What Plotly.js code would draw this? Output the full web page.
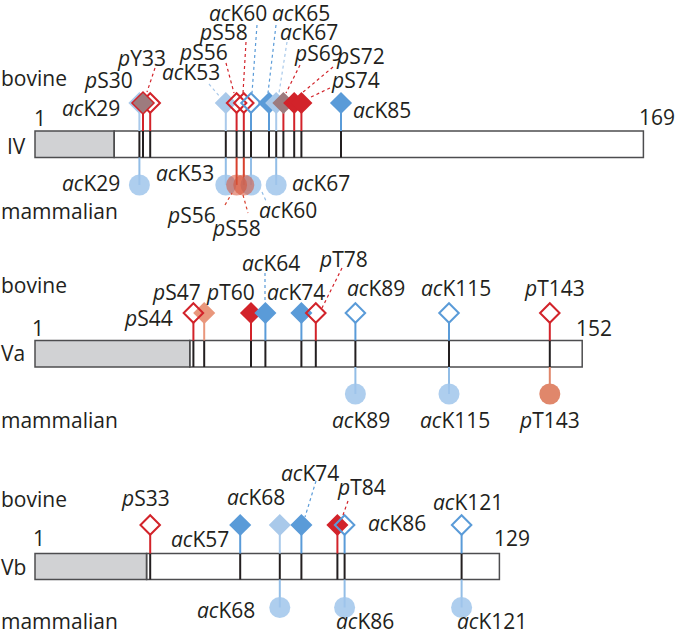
<!DOCTYPE html>
<html><head><meta charset="utf-8">
<script src="https://cdn.plot.ly/plotly-3.0.1.min.js"></script>
<style>html,body{margin:0;padding:0;background:#fff}#chart{width:677px;height:636px}</style>
</head><body><div id="chart"></div>
<script>
// ---------------- data ----------------
const proteins = ["IV", "Va", "Vb"];
const proteinLength = [169, 152, 129];
const presequenceEnd = [22, 43, 31];

const ivBovineSites = ["acK29","pS30","pY33","acK53","pS56","pS58","acK60","acK65","acK67","pS69","pS72","pS74","acK85"];
const ivBovinePos   = [29, 30, 32, 53, 56, 58, 60, 65, 67, 69, 72, 74, 85];
const ivBovineKind  = ["acL","pM","pO","acL","pO","pO","acO","ac","acL","pG","p","p","ac"];
const ivMammalSites = ["acK29","acK53","pS56","pS58","acK60","acK67"];
const ivMammalPos   = [29, 53, 56, 58, 60, 67];
const ivMammalKind  = ["ac","ac","p","p","ac","ac"];

const vaBovineSites = ["pS44","pS47","pT60","acK64","acK74","pT78","acK89","acK115","pT143"];
const vaBovinePos   = [44, 47, 60, 64, 74, 78, 89, 115, 143];
const vaBovineKind  = ["pO","pL","p","ac","ac","pO","acO","acO","pO"];
const vaMammalSites = ["acK89","acK115","pT143"];
const vaMammalPos   = [89, 115, 143];
const vaMammalKind  = ["ac","ac","pL"];

const vbBovineSites = ["pS33","acK57","acK68","acK74","pT84","acK86","acK121"];
const vbBovinePos   = [32, 57, 68, 74, 84, 86, 118.5];
const vbBovineKind  = ["pO","ac","acL","ac","p","acO","acO"];
const vbMammalSites = ["acK68","acK86","acK121"];
const vbMammalPos   = [68, 86, 118.5];
const vbMammalKind  = ["ac","ac","ac"];

// ---------------- layout (pixel placements) ----------------
const W = 677, H = 636;
const tracks = [
  {top:131, bottom:157.5, dia:103, circ:185, name:[7,146], one:[34,118], end:[639,117], bov:[1,78], mam:[1,211]},
  {top:340.5, bottom:367, dia:313, circ:394, name:[1,353], one:[32,328], end:[576,328], bov:[1,285], mam:[1,420]},
  {top:553.5, bottom:579.5, dia:525, circ:607.5, name:[1,567], one:[33,538], end:[494,538], bov:[1,499], mam:[1,621]}
];
// label left-x / centre-y (px) and leader lines (px)
const ivBovineLabel = [[62,108],[84,80],[117,58],[162,72],[179,52],[199,32],[209,13],[272,13],[280,32],[294,53],[336,56],[331,80],[353,110]];
const ivBovineLeader = [null,null,[155,68,147,92],[209,84,220,97],[226,63,234,93],[246,42,243,93],
  [257,25,252,93],[276,25,268,93],[287,42,279,93],[300,65,286,93],[333,67,302,93],[330,88,311,97],null];
const ivMammalLabel = [[62,183],[156,173],[167,215],[212,228],[259,210],[292,183]];
const ivMammalLeader = [null,null,[225,205,232,193],[243,195,248,213],[262,192,267,203],null];

const vaBovineLabel = [[124,318],[152,292],[206,292],[242,263],[267,292],[319,259],[347,288],[421,288],[524,288]];
const vaBovineLeader = [null,null,null,[265,273,265,300],null,[342,268,322,308],null,null,null];
const vaMammalLabel = [[332,420],[420,420],[519,420]];
const vaMammalLeader = [null,null,null];

const vbBovineLabel = [[121,498],[171,539],[227,497],[281,473],[337,487],[368,523],[433,502]];
const vbBovineLeader = [null,null,null,[316,481,305,517],[348,501,343,515],null,null];
const vbMammalLabel = [[197,610],[336,621],[457,621]];
const vbMammalLeader = [null,null,null];

// ---------------- styles ----------------
const RED = '#d2232a', BLUE = '#5a9bd8', LBLUE = '#a9c9ea', SALMON = '#e9977c', MAUVE = '#9d7b7e';
const INK = '#231f20';
const FONT = 'Open Sans', FS = 21;
const kindStyle = {
  ac:  {fill:BLUE,  line:BLUE, lw:0,   open:false, stem:BLUE,   z:0},
  acL: {fill:LBLUE, line:LBLUE,lw:0,   open:false, stem:LBLUE,  z:0},
  acO: {fill:BLUE,  line:BLUE, lw:2,   open:true,  stem:BLUE,   z:1},
  p:   {fill:RED,   line:RED,  lw:0,   open:false, stem:RED,    z:0},
  pO:  {fill:RED,   line:RED,  lw:2,   open:true,  stem:RED,    z:1},
  pL:  {fill:SALMON,line:SALMON,lw:0,  open:false, stem:SALMON, z:0},
  pM:  {fill:MAUVE, line:RED,  lw:1.5, open:false, stem:RED,    z:2},
  pG:  {fill:MAUVE, line:MAUVE,lw:0,   open:false, stem:RED,    z:0}
};
const mamStyle = {
  ac: {fill:'rgba(160,198,235,0.85)', stem:'#92bde6', z:0},
  p:  {fill:'rgba(214,80,52,0.55)', stem:'#d7402d', z:1},
  pL: {fill:'#e0876b', stem:'#e0876b', z:1}
};

const panels = [
  {bov:{sites:ivBovineSites,pos:ivBovinePos,kind:ivBovineKind,label:ivBovineLabel,leader:ivBovineLeader},
   mam:{sites:ivMammalSites,pos:ivMammalPos,kind:ivMammalKind,label:ivMammalLabel,leader:ivMammalLeader}},
  {bov:{sites:vaBovineSites,pos:vaBovinePos,kind:vaBovineKind,label:vaBovineLabel,leader:vaBovineLeader},
   mam:{sites:vaMammalSites,pos:vaMammalPos,kind:vaMammalKind,label:vaMammalLabel,leader:vaMammalLeader}},
  {bov:{sites:vbBovineSites,pos:vbBovinePos,kind:vbBovineKind,label:vbBovineLabel,leader:vbBovineLeader},
   mam:{sites:vbMammalSites,pos:vbMammalPos,kind:vbMammalKind,label:vbMammalLabel,leader:vbMammalLeader}}
];

function fmt(s){ return s.startsWith('ac') ? '<i>ac</i>' + s.slice(2) : '<i>p</i>' + s.slice(1); }
const px = x => x / W, py = y => 1 - y / H;
function ann(x, y, text, anchor){
  return {xref:'paper', yref:'paper', x:px(x), y:py(y), xanchor:anchor||'left', yanchor:'middle',
    text:text, showarrow:false, borderpad:0, borderwidth:0, font:{family:FONT, size:FS, color:INK}};
}

const traces = [];
const shapes = [];
const annotations = [];

const stemGroups = {};
function addStem(color, x, y0, y1){
  if(!stemGroups[color]) stemGroups[color] = {x:[], y:[]};
  stemGroups[color].x.push(x, x, null);
  stemGroups[color].y.push(y0, y1, null);
}
const inner = {x:[], y:[]};
const dia = [], circ = [];

panels.forEach((p, i) => {
  const t = tracks[i];
  shapes.push({type:'rect', xref:'x', yref:'y', x0:0, x1:presequenceEnd[i], y0:t.top, y1:t.bottom,
    fillcolor:'#d1d2d4', line:{color:'#4d4d4f', width:1.5}, layer:'below'});
  shapes.push({type:'rect', xref:'x', yref:'y', x0:presequenceEnd[i], x1:proteinLength[i], y0:t.top, y1:t.bottom,
    fillcolor:'rgba(255,255,255,0)', line:{color:'#4d4d4f', width:1.5}, layer:'below'});
  const all = Array.from(new Set(p.bov.pos.concat(p.mam.pos)));
  all.forEach(x => { inner.x.push(x, x, null); inner.y.push(t.top, t.bottom, null); });
  p.bov.pos.forEach((x, j) => {
    const st = kindStyle[p.bov.kind[j]];
    addStem(st.stem, x, t.top, st.open ? t.dia + 10 : t.dia);
    dia.push({x:x, y:t.dia, st:st, order:dia.length});
    const lab = p.bov.label[j];
    annotations.push(ann(lab[0], lab[1], fmt(p.bov.sites[j])));
    const L = p.bov.leader[j];
    if(L) shapes.push({type:'line', xref:'paper', yref:'paper', x0:px(L[0]), y0:py(L[1]), x1:px(L[2]), y1:py(L[3]),
      line:{color:st.stem, width:1.2, dash:'3px,3px'}});
  });
  p.mam.pos.forEach((x, j) => {
    const st = mamStyle[p.mam.kind[j]];
    addStem(st.stem, x, t.bottom, t.circ);
    circ.push({x:x, y:t.circ, st:st, order:circ.length});
    const lab = p.mam.label[j];
    annotations.push(ann(lab[0], lab[1], fmt(p.mam.sites[j])));
    const L = p.mam.leader[j];
    if(L) shapes.push({type:'line', xref:'paper', yref:'paper', x0:px(L[0]), y0:py(L[1]), x1:px(L[2]), y1:py(L[3]),
      line:{color:st.stem, width:1.2, dash:'3px,3px'}});
  });
  annotations.push(ann(t.name[0], t.name[1], proteins[i]));
  annotations.push(ann(t.one[0], t.one[1], '1'));
  annotations.push(ann(t.end[0], t.end[1], String(proteinLength[i])));
  annotations.push(ann(t.bov[0], t.bov[1], 'bovine'));
  annotations.push(ann(t.mam[0], t.mam[1], 'mammalian'));
});

traces.push({type:'scatter', mode:'lines', x:inner.x, y:inner.y, line:{color:INK, width:2}, hoverinfo:'skip'});
Object.keys(stemGroups).forEach(c => traces.push({type:'scatter', mode:'lines', x:stemGroups[c].x, y:stemGroups[c].y,
  line:{color:c, width:2}, hoverinfo:'skip'}));

circ.sort((a,b) => a.st.z - b.st.z || a.order - b.order);
traces.push({type:'scatter', mode:'markers', x:circ.map(d=>d.x), y:circ.map(d=>d.y), hoverinfo:'skip',
  marker:{symbol:'circle', size:21, opacity:1, color:circ.map(d=>d.st.fill), line:{width:0}}});

dia.sort((a,b) => a.st.z - b.st.z || a.order - b.order);
traces.push({type:'scatter', mode:'markers', x:dia.map(d=>d.x), y:dia.map(d=>d.y), hoverinfo:'skip',
  marker:{symbol:dia.map(d=>d.st.open ? 'diamond-open' : 'diamond'),
    size:dia.map(d=>d.st.open ? 15 : 17), opacity:1,
    color:dia.map(d=>d.st.fill),
    line:{color:dia.map(d=>d.st.line), width:dia.map(d=>d.st.lw)}}});

const layout = {
  width:W, height:H, margin:{l:0, r:0, t:0, b:0},
  paper_bgcolor:'#fff', plot_bgcolor:'#fff', showlegend:false, hovermode:false,
  xaxis:{range:[-35/3.6, (W-35)/3.6], visible:false, fixedrange:true},
  yaxis:{range:[H, 0], visible:false, fixedrange:true},
  shapes:shapes, annotations:annotations
};
Plotly.newPlot('chart', traces, layout, {staticPlot:true, displayModeBar:false});
</script></body></html>
